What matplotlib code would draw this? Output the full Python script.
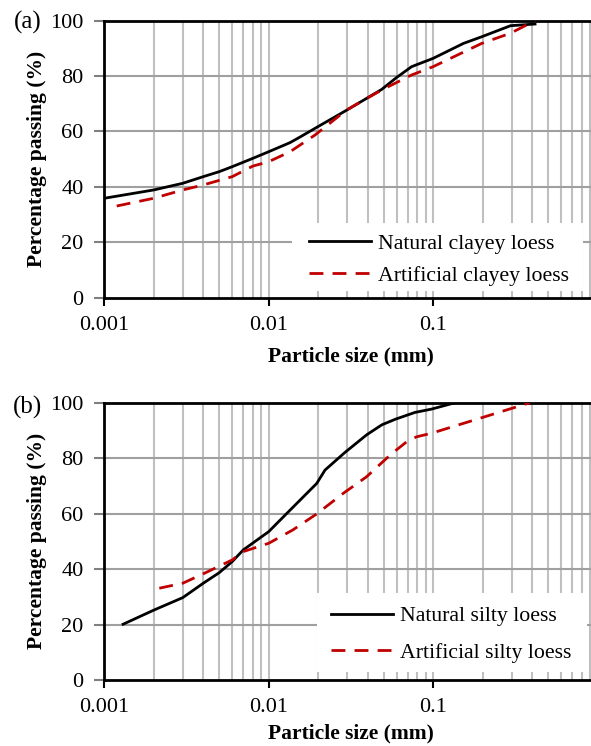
import matplotlib
matplotlib.use("Agg")
import matplotlib.pyplot as plt
from matplotlib.patches import Rectangle
from matplotlib.ticker import FixedLocator, NullFormatter, NullLocator

plt.rcParams['font.family'] = ['Liberation Serif', 'DejaVu Serif']

# ---- data (a) ----
nat_clay_x = [0.001, 0.002, 0.003, 0.004, 0.005, 0.006, 0.008, 0.01, 0.0135, 0.0155, 0.02, 0.03, 0.0487, 0.06, 0.074, 0.1, 0.153, 0.1975, 0.296, 0.417]
nat_clay_y = [35.9, 38.9, 41.3, 43.7, 45.5, 47.3, 50.3, 52.7, 56.0, 58.0, 61.8, 67.8, 75.2, 79.5, 83.4, 86.4, 91.8, 94.2, 98.2, 98.8]
art_clay_x = [0.00119, 0.002, 0.003, 0.004, 0.006, 0.008, 0.01, 0.0135, 0.0155, 0.0191, 0.0298, 0.0487, 0.074, 0.1, 0.1975, 0.296, 0.417]
art_clay_y = [33.1, 35.9, 38.9, 40.7, 43.7, 47.5, 49.1, 52.7, 55.1, 58.7, 67.8, 75.0, 80.4, 83.4, 91.8, 95.5, 100.0]

# ---- data (b) ----
nat_silt_x = [0.0013, 0.002, 0.003, 0.004, 0.005, 0.006, 0.007, 0.01, 0.0129, 0.0196, 0.022, 0.029, 0.0394, 0.0487, 0.0587, 0.0776, 0.098, 0.136]
nat_silt_y = [20.1, 25.2, 29.7, 34.9, 38.7, 42.7, 46.9, 53.5, 60.1, 70.9, 75.7, 82.0, 88.4, 92.0, 94.0, 96.5, 97.7, 100.0]
art_silt_x = [0.00216, 0.003, 0.004, 0.006, 0.007, 0.01, 0.014, 0.0196, 0.0284, 0.0394, 0.0547, 0.069, 0.0794, 0.098, 0.193, 0.388]
art_silt_y = [33.1, 34.9, 38.3, 43.3, 46.3, 49.3, 54.1, 59.9, 67.3, 73.3, 81.1, 85.9, 87.7, 89.0, 94.4, 100.0]

yticks = [0, 20, 40, 60, 80, 100]
xticks = [0.001, 0.01, 0.1]
xtick_labels = ['0.001', '0.01', '0.1']

W, H = 591, 746
fig = plt.figure(figsize=(W / 100, H / 100), dpi=100)

def px(x0, y0, x1, y1):
    return [x0 / W, 1 - y1 / H, (x1 - x0) / W, (y1 - y0) / H]

panels = [
    dict(rect=px(104.3, 20.7, 597.5, 297.7), label='(a)', ly=22, xly=-0.214,
         nx=nat_clay_x, ny=nat_clay_y, ax_=art_clay_x, ay=art_clay_y,
         names=['Natural clayey loess', 'Artificial clayey loess'],
         box=(292, 223, 583, 291), leg=(309, 259.5), lspace=0.55),
    dict(rect=px(104.3, 402.7, 597.5, 680), label='(b)', ly=407, xly=-0.193,
         nx=nat_silt_x, ny=nat_silt_y, ax_=art_silt_x, ay=art_silt_y,
         names=['Natural silty loess', 'Artificial silty loess'],
         box=(317, 593, 587, 672), leg=(331, 634.5), lspace=0.75),
]

minor = [m * 10.0 ** e for e in (-3, -2, -1) for m in range(2, 10)] + [0.01, 0.1]

for p in panels:
    ax = fig.add_axes(p['rect'])
    ax.set_xscale('log')
    ax.set_xlim(0.001, 1)
    ax.set_ylim(0, 100)
    ax.set_axisbelow(True)
    for xv in minor:
        ax.axvline(xv, color='#c0c0c0', lw=1.5, zorder=0.5)
    for yv in [20, 40, 60, 80]:
        ax.axhline(yv, color='#a0a0a0', lw=1.5, zorder=0.6)
    ax.plot(p['nx'], p['ny'], color='black', lw=2.0, label=p['names'][0], zorder=3)
    ax.plot(p['ax_'], p['ay'], color='#c00000', lw=2.0, ls=(0, (5, 3.3)), label=p['names'][1], zorder=3)

    ax.xaxis.set_major_locator(FixedLocator(xticks))
    ax.set_xticklabels(xtick_labels)
    ax.xaxis.set_minor_locator(NullLocator())
    ax.xaxis.set_minor_formatter(NullFormatter())
    ax.set_yticks(yticks)
    ax.tick_params(axis='x', which='major', direction='out', length=6, width=1.5,
                   color='black', labelsize=16, pad=7)
    ax.tick_params(axis='y', which='major', direction='out', length=7, width=1.5,
                   color='#7f7f7f', labelsize=16, pad=8)
    for s in ['left', 'bottom', 'top']:
        ax.spines[s].set_linewidth(2)
        ax.spines[s].set_color('black')
    ax.spines['right'].set_visible(False)

    ax.set_xlabel('Particle size (mm)', fontsize=15.5, fontweight='bold', va='center')
    ax.xaxis.set_label_coords(0.5, p['xly'])
    ax.set_ylabel('Percentage passing (%)', fontsize=15.5, fontweight='bold', va='center')
    ax.yaxis.set_label_coords(-0.137, 0.5)

    x0, y0, x1, y1 = p['box']
    r = Rectangle((x0 / W, 1 - y1 / H), (x1 - x0) / W, (y1 - y0) / H,
                  transform=fig.transFigure, facecolor='white', edgecolor='none',
                  zorder=2, clip_on=False)
    ax.add_patch(r)
    lx, ly = p['leg']
    leg = ax.legend(loc='center left', bbox_to_anchor=(lx / W, 1 - ly / H),
                    bbox_transform=fig.transFigure, frameon=False, fontsize=15.7,
                    handlelength=2.85, handletextpad=0.33, borderpad=0,
                    borderaxespad=0, labelspacing=p['lspace'])
    leg.set_zorder(5)

    fig.text(28 / W, 1 - p['ly'] / H, p['label'], fontsize=18, ha='center', va='center')

fig.savefig('out.png', dpi=100)
